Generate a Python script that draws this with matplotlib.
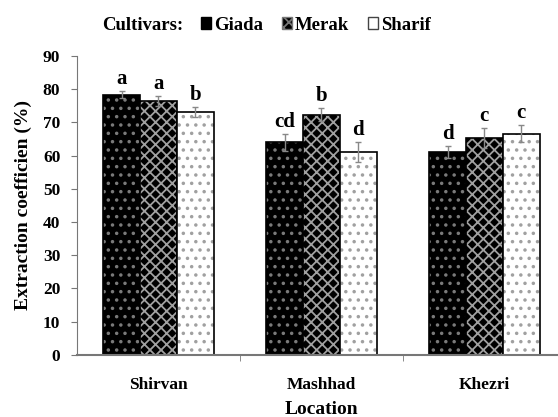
import numpy as np
import matplotlib.pyplot as plt
from matplotlib.patches import Patch

plt.rcParams['font.family'] = ['Liberation Serif', 'DejaVu Serif']
plt.rcParams['font.weight'] = 'bold'
plt.rcParams['hatch.linewidth'] = 1.3

locations = ['Shirvan', 'Mashhad', 'Khezri']
cultivars = ['Giada', 'Merak', 'Sharif']
giada = [78.3, 64.0, 61.2]
merak = [76.3, 72.3, 65.4]
sharif = [73.2, 61.2, 66.6]
giada_err = [1.0, 2.5, 1.8]
merak_err = [1.5, 2.0, 3.0]
sharif_err = [1.5, 3.0, 2.5]
giada_letters = ['a', 'cd', 'd']
merak_letters = ['a', 'b', 'c']
sharif_letters = ['b', 'd', 'c']

values = [giada, merak, sharif]
errors = [giada_err, merak_err, sharif_err]
letters = [giada_letters, merak_letters, sharif_letters]
styles = [('black', '#7a7a7a', '..'), ('black', '#a0a0a0', 'xxx'), ('white', '#a0a0a0', '..')]

fig = plt.figure(figsize=(5.58, 4.17), dpi=100)
ax = fig.add_axes([0.138, 0.149, 0.876, 0.717])

x = np.arange(len(locations))
w = 0.226
for i in range(3):
    pos = x + (i - 1) * w
    fc, hc, hatch = styles[i]
    ax.bar(pos, values[i], w, facecolor=fc, edgecolor=hc, hatch=hatch, linewidth=0)
    ax.bar(pos, values[i], w, fill=False, edgecolor='black', linewidth=1.2)
    ax.errorbar(pos, values[i], yerr=errors[i], fmt='none', ecolor='#888888',
                elinewidth=1, capsize=2.5)
    for p, v, e, t in zip(pos, values[i], errors[i], letters[i]):
        ax.text(p, v + e + 0.6, t, ha='center', va='bottom', fontsize=15, fontweight='bold')

ax.set_xlim(-0.5, 2.5)
ax.set_ylim(0, 90)
ax.set_yticks(range(0, 91, 10))
ax.set_xticks(x)
ax.set_xticklabels(locations)
ax.set_xticks([0.5, 1.5], minor=True)
ax.tick_params(axis='x', which='major', length=0, pad=16, labelsize=12.5)
ax.tick_params(axis='x', which='minor', length=4, direction='out', color='#777777')
ax.tick_params(axis='y', length=4, direction='out', labelsize=12.5, color='#777777', pad=8)
for s in ['top', 'right']:
    ax.spines[s].set_visible(False)
ax.spines['left'].set_color('#777777')
ax.spines['bottom'].set_color('#777777')
ax.spines['bottom'].set_linewidth(1.5)

ax.set_xlabel('Location', fontsize=14, fontweight='bold', labelpad=6)
ax.set_ylabel('Extraction coefficien (%)', fontsize=14, fontweight='bold', labelpad=8)

# legend: plain black / hatched / plain white squares like the original
fig.text(0.183, 0.94, 'Cultivars:', fontsize=13.5, fontweight='bold', ha='left', va='center')
handles = [Patch(facecolor='black', edgecolor='black'),
           Patch(facecolor='black', edgecolor='#777777', hatch='xxx'),
           Patch(facecolor='white', edgecolor='#444444')]
fig.legend(handles, cultivars, loc='center left', bbox_to_anchor=(0.36, 0.94), ncol=3,
           frameon=False, fontsize=13.5, borderpad=0, borderaxespad=0,
           handlelength=0.55, handleheight=0.55, handletextpad=0.15, columnspacing=1.0)

fig.savefig('out.png', dpi=100)
